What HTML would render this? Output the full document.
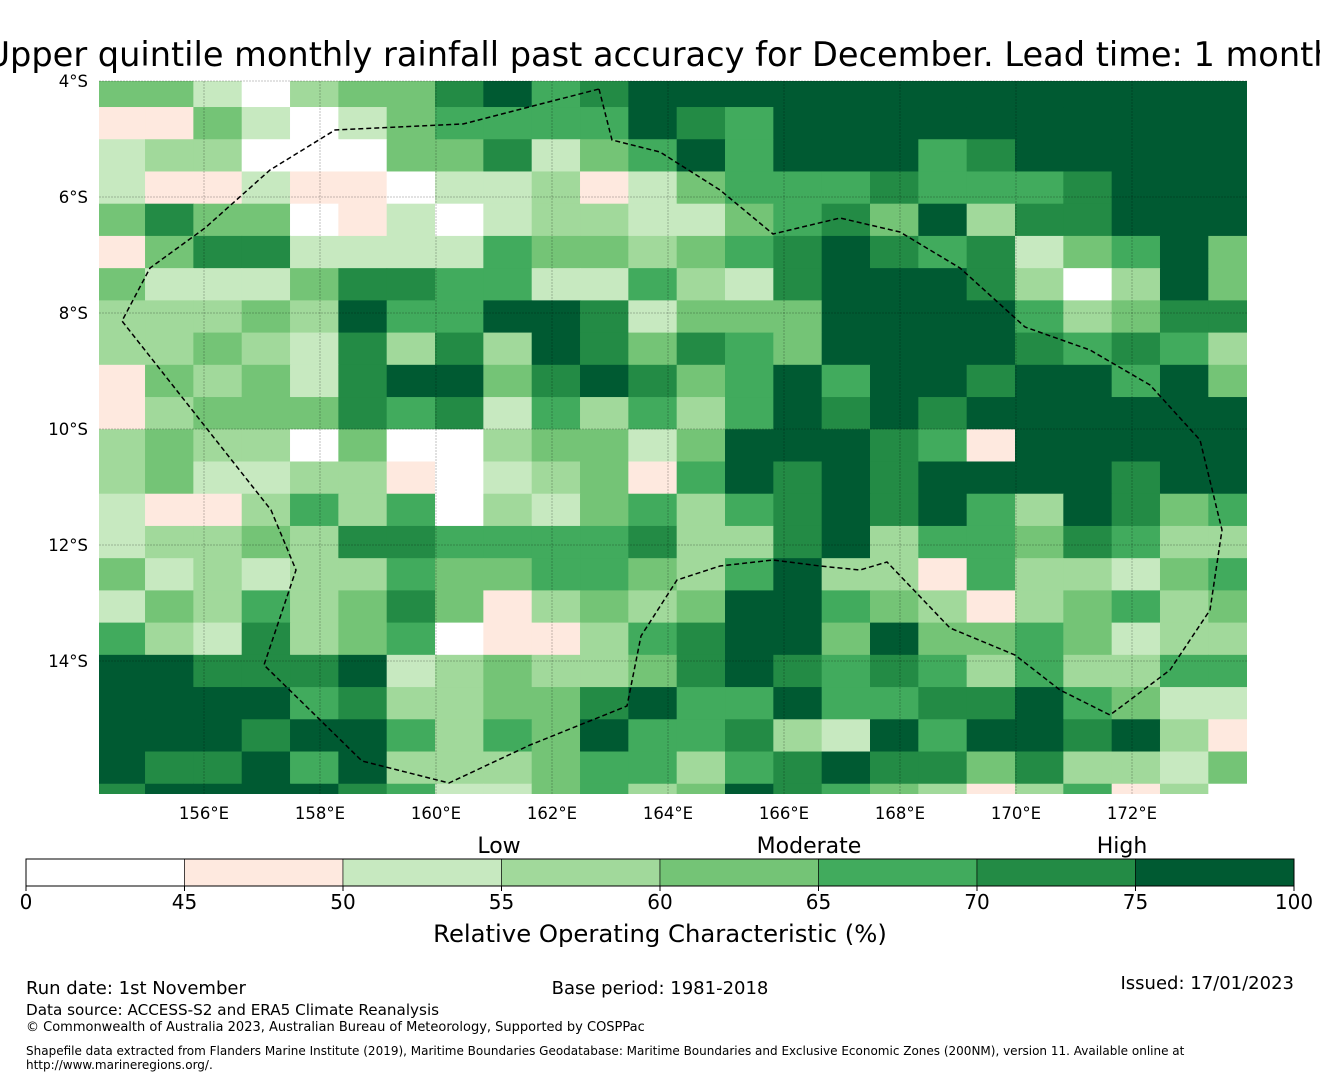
<!DOCTYPE html>
<html><head><meta charset="utf-8">
<style>
body{margin:0;background:#fff;width:1320px;height:1080px;overflow:hidden;font-family:"Liberation Sans",sans-serif;}
svg text{font-family:"DejaVu Sans","Liberation Sans",sans-serif;}
</style></head>
<body>
<svg id="chart" width="1320" height="1080">
<text x="660" y="66" font-size="33.6" text-anchor="middle">Upper quintile monthly rainfall past accuracy for December. Lead time: 1 month</text>
<defs><clipPath id="mapclip"><rect x="99" y="81" width="1148" height="713"/></clipPath></defs>
<g id="cells" clip-path="url(#mapclip)"></g>
<g id="grid"></g>
<polyline clip-path="url(#mapclip)" fill="none" stroke="#000" stroke-width="1.5" stroke-dasharray="5,3"
 points="599,89 612,140 660,152 720,190 773,234 840,218 900,232 960,268 1025,327 1090,350 1150,385 1200,440 1222,530 1210,610 1170,670 1110,715 1060,690 1015,655 950,628 887,562 860,570 820,566 773,560 720,566 677,580 641,636 627,706 530,745 449,783 362,761 264,665 296,570 271,510 200,420 122,321 150,268 205,228 270,170 335,130 463,124 599,89"/>
<g id="axes"></g>
<g id="colorbar"></g>
<text x="499" y="853" font-size="22" text-anchor="middle">Low</text>
<text x="809" y="853" font-size="22" text-anchor="middle">Moderate</text>
<text x="1122" y="853" font-size="22" text-anchor="middle">High</text>
<text x="660" y="942" font-size="24.3" text-anchor="middle">Relative Operating Characteristic (%)</text>
<text x="26" y="994" font-size="18">Run date: 1st November</text>
<text x="660" y="994" font-size="18" text-anchor="middle">Base period: 1981-2018</text>
<text x="1294" y="989" font-size="18" text-anchor="end">Issued: 17/01/2023</text>
<text x="26" y="1015" font-size="15.2">Data source: ACCESS-S2 and ERA5 Climate Reanalysis</text>
<text x="26" y="1031" font-size="13">© Commonwealth of Australia 2023, Australian Bureau of Meteorology, Supported by COSPPac</text>
<text x="26" y="1055" font-size="12">Shapefile data extracted from Flanders Marine Institute (2019), Maritime Boundaries Geodatabase: Maritime Boundaries and Exclusive Economic Zones (200NM), version 11. Available online at</text>
<text x="26" y="1069" font-size="12">http://www.marineregions.org/.</text>
</svg>
<script>
// ROC class per cell (0:<45, 1:45-50, 2:50-55, 3:55-60, 4:60-65, 5:65-70, 6:70-75, 7:75-100), rows north->south, cols west->east
const rocBins = [
[4,4,2,0,3,4,4,6, 7,5,6,7,7,7,7,7, 7,7,7,7,7,7,7,7],
[1,1,4,2,0,2,4,5, 5,5,5,7,6,5,7,7, 7,7,7,7,7,7,7,7],
[2,3,3,0,0,0,4,4, 6,2,4,5,7,5,7,7, 7,5,6,7,7,7,7,7],
[2,1,1,2,1,1,0,2, 2,3,1,2,4,5,5,5, 6,5,5,5,6,7,7,7],
[4,6,4,4,0,1,2,0, 2,3,3,2,2,4,5,6, 4,7,3,6,6,7,7,7],
[1,4,6,6,2,2,2,2, 5,4,4,3,4,5,6,7, 6,5,6,2,4,5,7,4],
[4,2,2,2,4,6,6,5, 5,2,2,5,3,2,6,7, 7,7,6,3,0,3,7,4],
[3,3,3,4,3,7,5,5, 7,7,6,2,4,4,4,7, 7,7,7,5,3,4,6,6],
[3,3,4,3,2,6,3,6, 3,7,6,4,6,5,4,7, 7,7,7,6,5,6,5,3],
[1,4,3,4,2,6,7,7, 4,6,7,6,4,5,7,5, 7,7,6,7,7,5,7,4],
[1,3,4,4,4,6,5,6, 2,5,3,5,3,5,7,6, 7,6,7,7,7,7,7,7],
[3,4,3,3,0,4,0,0, 3,4,4,2,4,7,7,7, 6,5,1,7,7,7,7,7],
[3,4,2,2,3,3,1,0, 2,3,4,1,5,7,6,7, 6,7,7,7,7,6,7,7],
[2,1,1,3,5,3,5,0, 3,2,4,5,3,5,6,7, 6,7,5,3,7,6,4,5],
[2,3,3,4,3,6,6,5, 5,5,5,6,3,3,6,7, 3,5,5,4,6,5,3,3],
[4,2,3,2,3,3,5,4, 4,5,5,4,3,5,7,3, 3,1,5,3,3,2,4,5],
[2,4,3,5,3,4,6,4, 1,3,4,3,4,7,7,5, 4,3,1,3,4,5,3,4],
[5,3,2,6,3,4,5,0, 1,1,3,5,6,7,7,4, 7,4,4,5,4,2,3,3],
[7,7,6,6,6,7,2,3, 4,3,3,4,6,7,6,5, 6,5,3,5,3,3,5,5],
[7,7,7,7,5,6,3,3, 4,4,6,7,5,5,7,5, 5,6,6,7,5,4,2,2],
[7,7,7,6,7,7,5,3, 5,4,7,5,5,6,3,2, 7,5,7,7,6,7,3,1],
[7,6,6,7,5,7,3,3, 3,4,5,5,3,5,6,7, 6,6,4,6,3,3,2,4],
[6,7,7,7,7,6,5,2, 2,4,5,3,4,7,6,5, 4,3,1,3,5,1,3,0]
];
const binColors = ["#ffffff","#fee9df","#c7e9c0","#a1d99b","#74c476","#41ab5d","#238b45","#005a32"];
const binEdges = [0,45,50,55,60,65,70,75,100];
const lonTicks = [156,158,160,162,164,166,168,170,172];
const latTicks = [4,6,8,10,12,14];
const gridLon0 = 154.15, gridLat0 = 3.893, cellLon = 0.8333, cellLat = 0.5556;

const NS="http://www.w3.org/2000/svg";
const xOf = lon => 204 + (lon-156)*58;
const yOf = lat => 81 + (lat-4)*58;
function mk(tag, attrs, parent){const e=document.createElementNS(NS,tag);for(const k in attrs)e.setAttribute(k,attrs[k]);parent.appendChild(e);return e;}

const cells=document.getElementById('cells');
rocBins.forEach((row,r)=>row.forEach((v,c)=>{
  const x0=xOf(gridLon0+c*cellLon), x1=xOf(gridLon0+(c+1)*cellLon);
  const y0=yOf(gridLat0+r*cellLat), y1=yOf(gridLat0+(r+1)*cellLat);
  const el=mk('rect',{x:x0,y:y0,width:x1-x0+0.5,height:y1-y0+0.5,fill:binColors[v]},cells);
  
  
}));

const grid=document.getElementById('grid'), axes=document.getElementById('axes');
lonTicks.forEach(l=>{
  const x=xOf(l);
  const g=mk('line',{x1:x,x2:x,y1:81,y2:794,stroke:'#000','stroke-opacity':0.3,'stroke-width':0.8,'stroke-dasharray':'2,1'},grid);
  
  
  const t=mk('text',{x:x,y:819,'font-size':16.5,'text-anchor':'middle'},axes);
  t.textContent=l+'°E';
  
  
});
latTicks.forEach(l=>{
  const y=yOf(l);
  const g=mk('line',{x1:99,x2:1247,y1:y,y2:y,stroke:'#000','stroke-opacity':0.3,'stroke-width':0.8,'stroke-dasharray':'2,1'},grid);
  
  
  const t=mk('text',{x:88,y:y+6,'font-size':16.5,'text-anchor':'end'},axes);
  t.textContent=l+'°S';
  
  
});

const cb=document.getElementById('colorbar');
const segW=(1294-26)/binColors.length;
binColors.forEach((col,i)=>{
  const r=mk('rect',{x:26+i*segW,y:859,width:segW,height:27,fill:col,stroke:'#000','stroke-width':0.6},cb);
  
  
});
mk('rect',{x:26,y:859,width:1268,height:27,fill:'none',stroke:'#000','stroke-width':1},cb);
binEdges.forEach((v,i)=>{
  const x=26+i*segW;
  mk('line',{x1:x,x2:x,y1:886,y2:891,stroke:'#000'},cb);
  const t=mk('text',{x:x,y:909,'font-size':20,'text-anchor':'middle'},cb);
  t.textContent=v;
  
  
});
</script>
</body></html>
